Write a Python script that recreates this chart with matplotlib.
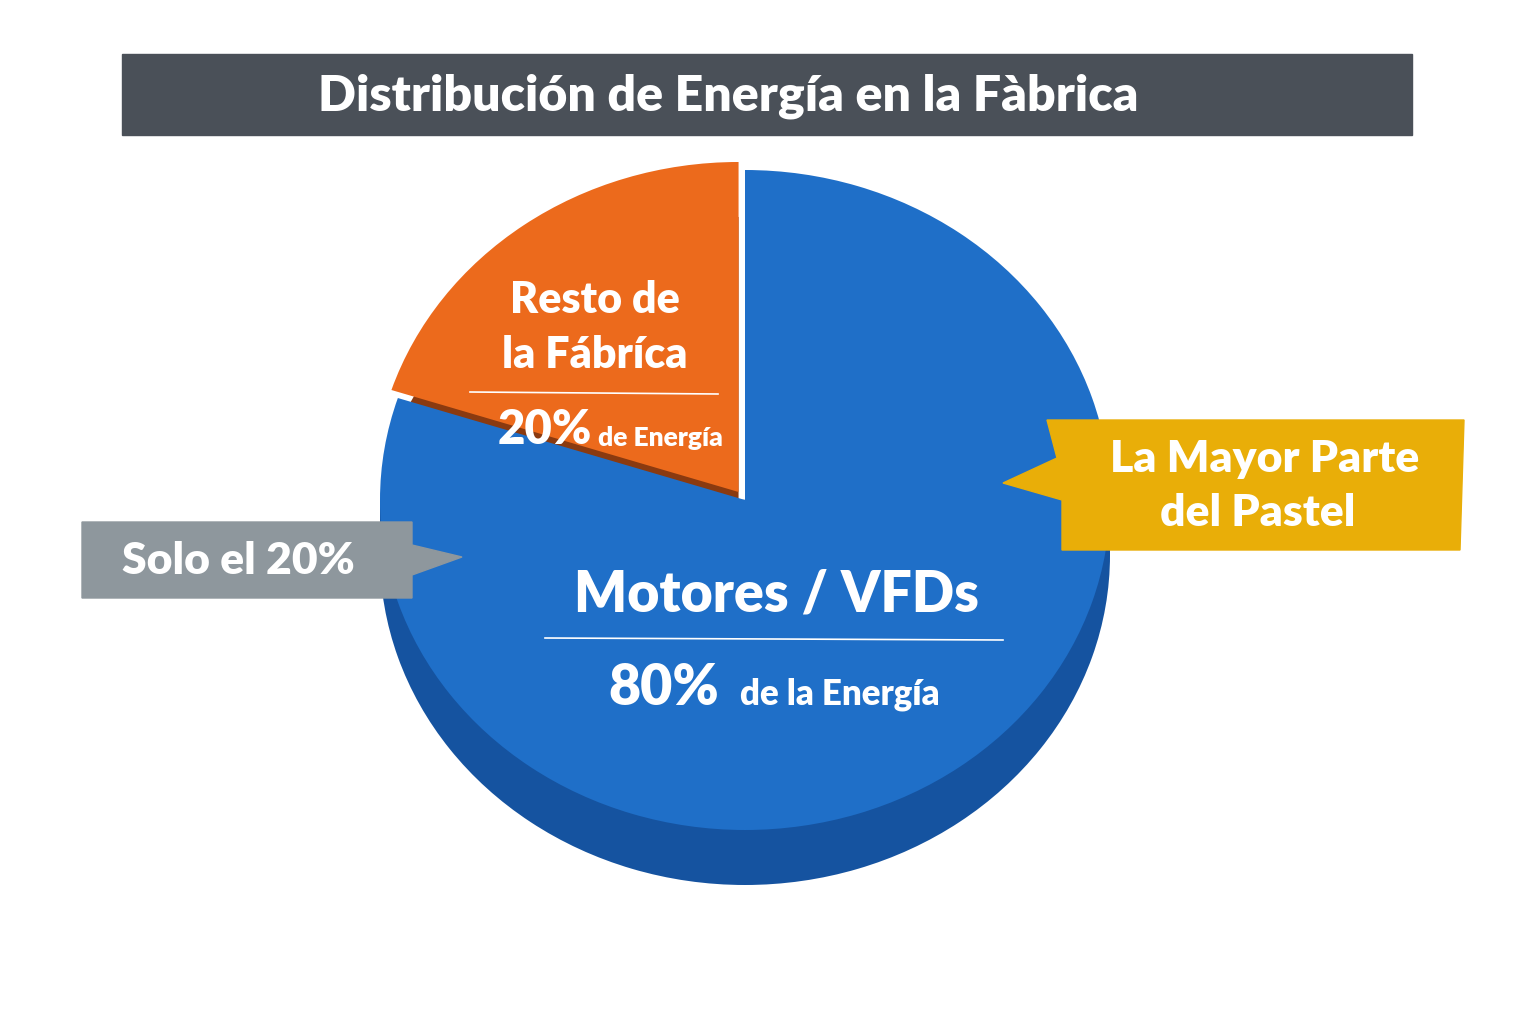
import matplotlib
matplotlib.use("Agg")
import matplotlib.pyplot as plt
from matplotlib.patches import Rectangle, Polygon

labels = ["Resto de la Fábrica", "Motores / VFDs"]
values = [20, 80]
top_colors = ["#ec6a1c", "#1f6fc8"]
side_colors = ["#8a3a10", "#1553a0"]
title = "Distribución de Energía en la Fàbrica"

W, H = 1536, 1024
fig = plt.figure(figsize=(W/100, H/100), dpi=100)
fig.patch.set_facecolor("white")
plt.rcParams['font.family'] = ['Lato', 'DejaVu Sans']
FW = "heavy"

cx, cy, rx, ry, depth = 745, 500, 365, 330, 55
left = (cx-rx)/W; width = 2*rx/W
bottom = (H-(cy+ry+depth))/H; height = (2*ry+depth)/H
pax = fig.add_axes([left, bottom, width, height])
d = depth/ry
pax.pie(values, startangle=90, colors=side_colors, center=(0, -d),
        explode=[0.03, 0], frame=True, wedgeprops=dict(linewidth=0))
pax.add_patch(Rectangle((-1, -d), 2, d, color=side_colors[1], zorder=0.5))
w1, _ = pax.pie(values, startangle=90, colors=top_colors, explode=[0.03, 0],
                frame=True, wedgeprops=dict(linewidth=0))
for w in w1:
    w.set_zorder(3)
pax.set_aspect("auto")
pax.set_xlim(-1, 1); pax.set_ylim(-1-d, 1)
pax.axis("off")

ax = fig.add_axes([0, 0, 1, 1], zorder=5)
ax.set_xlim(0, W); ax.set_ylim(H, 0); ax.axis("off")
ax.patch.set_alpha(0)

ax.add_patch(Rectangle((122, 54), 1290, 81, color="#4a5058"))
ax.text(728, 96, title, color="white", fontsize=36, fontweight=FW,
        ha="center", va="center")

ax.text(595, 300, "Resto de", color="white", fontsize=31, fontweight=FW, ha="center", va="center")
ax.text(595, 355, "la Fábríca", color="white", fontsize=31, fontweight=FW, ha="center", va="center")
ax.plot([470, 718], [392, 394], color="white", lw=1.2)
ax.text(545, 430, f"{values[0]}%", color="white", fontsize=34, fontweight=FW, ha="center", va="center")
ax.text(660, 438, "de Energía", color="white", fontsize=19, fontweight=FW, ha="center", va="center")

ax.text(776, 594, labels[1], color="white", fontsize=40, fontweight=FW, ha="center", va="center")
ax.plot([545, 1003], [638, 640], color="white", lw=1.2)
ax.text(664, 688, f"{values[1]}%", color="white", fontsize=40, fontweight=FW, ha="center", va="center")
ax.text(840, 694, "de la Energía", color="white", fontsize=25, fontweight=FW, ha="center", va="center")

ax.add_patch(Polygon([(82, 522), (412, 522), (412, 545), (462, 557), (412, 575), (412, 598), (82, 598)],
                     closed=True, color="#8e979d", zorder=2))
ax.text(238, 561, "Solo el 20%", color="white", fontsize=32, fontweight=FW, ha="center", va="center", zorder=3)

ax.add_patch(Polygon([(1047, 420), (1464, 420), (1460, 550), (1062, 550), (1062, 500), (1003, 483), (1057, 458)],
                     closed=True, color="#e9ae08", zorder=2))
ax.text(1265, 459, "La Mayor Parte", color="white", fontsize=32, fontweight=FW, ha="center", va="center", zorder=3)
ax.text(1258, 513, "del Pastel", color="white", fontsize=32, fontweight=FW, ha="center", va="center", zorder=3)

fig.savefig("out.png", dpi=100)
